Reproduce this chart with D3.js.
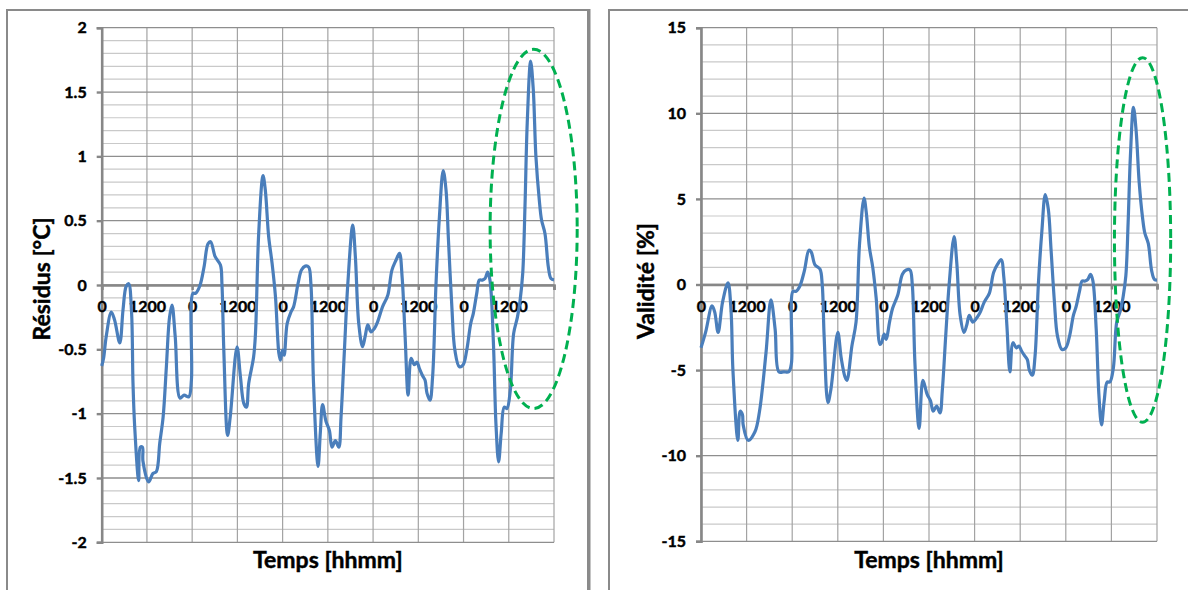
<!DOCTYPE html>
<html><head><meta charset="utf-8">
<script src="https://cdn.jsdelivr.net/npm/d3@7"></script>
<style>
body{margin:0;background:#fff}
svg{display:block}
text{font-family:Lato,"Open Sans",sans-serif;font-weight:bold;fill:#000;stroke:#000;stroke-width:0.45px;paint-order:stroke}
</style>
</head><body><svg id="c" width="1188" height="590"></svg>
<script>
// ---- DATA ----
const xTickHours = [0,12,24,36,48,60,72,84,96,108];
const xTickLabels = ["0","1200","0","1200","0","1200","0","1200","0","1200"];
const residusTicks = [-2,-1.5,-1,-0.5,0,0.5,1,1.5,2];
const validiteTicks = [-15,-10,-5,0,5,10,15];

const residusHours = [0,0.5,1.2,2.55,3.4,4.8,5.65,6.5,7.15,7.9,8.3,8.75,9.8,10.25,10.8,10.95,12.45,13.6,14.5,15.4,16.3,17.15,18,18.65,19.5,20.8,21.85,23.1,23.8,24.2,24.9,26,27.15,28.2,28.9,30.1,31.5,31.9,32.4,33.4,34.1,35.9,36.8,37.7,38.4,39,40.3,40.8,41.65,42.8,43.4,44.3,45.2,46.1,47,47.4,48,48.4,49.2,50.2,50.9,52.1,53,54,54.9,55.5,56.2,57.4,58,58.6,59.5,60.4,61.1,62,62.9,63.5,64.4,65.3,66.6,67.3,68.2,69.2,69.9,70.6,71.45,72.3,73.2,74.5,75.9,77,78.1,79,79.7,80.5,81.3,82.1,82.95,83.65,84.3,85.2,85.8,86.3,87.1,87.8,88.7,89.6,90.6,91.35,92,92.9,93.7,94.9,95.9,96.85,97.9,98.6,99.5,100.2,101,101.7,102.4,103,103.9,104.6,105.3,106,106.8,107.5,108.4,109.3,110.3,111,111.7,112.3,112.9,113.8,114.5,115.2,116.1,116.7,117.6,118.5,119.2,120];
const residusValues = [-0.63,-0.57,-0.40,-0.21,-0.27,-0.45,-0.195,-0.01,0.01,-0.2,-0.76,-1.10,-1.52,-1.26,-1.26,-1.37,-1.53,-1.465,-1.45,-1.23,-1.025,-0.64,-0.25,-0.156,-0.40,-0.88,-0.856,-0.87,-0.74,-0.065,-0.065,-0.01,0.14,0.32,0.336,0.22,0.155,0.01,-0.51,-1.17,-1.025,-0.48,-0.71,-0.92,-0.95,-0.765,-0.56,-0.376,0.40,0.85,0.74,0.375,0.17,-0.09,-0.53,-0.585,-0.506,-0.545,-0.30,-0.21,-0.17,0.012,0.116,0.147,0.14,0.01,-0.765,-1.41,-1.15,-0.93,-1.06,-1.13,-1.26,-1.21,-1.26,-1.025,-0.506,0.01,0.466,0.22,-0.30,-0.48,-0.40,-0.31,-0.364,-0.34,-0.286,-0.17,-0.08,0.116,0.194,0.246,0.064,-0.40,-0.856,-0.57,-0.62,-0.60,-0.65,-0.71,-0.74,-0.84,-0.895,-0.71,0.012,0.53,0.89,0.74,0.35,-0.17,-0.506,-0.636,-0.62,-0.506,-0.30,-0.22,-0.065,0.038,0.038,0.05,0.10,0.04,-0.43,-1.08,-1.375,-1.15,-0.95,-0.96,-0.82,-0.376,-0.25,-0.12,0.09,0.61,1.26,1.74,1.52,1.0,0.66,0.505,0.40,0.14,0.05,0.04];

const validiteHours = [0,1.2,2.9,3.6,4.5,5.7,7.1,7.9,8.4,9.7,10.3,10.9,11.1,12.4,14.2,15.4,17.1,18.4,19.5,20.5,21.8,23.1,23.8,24.2,25,26,27.2,28.4,29,30,31.3,31.9,32.4,33.4,34.2,36,36.9,37.9,38.4,39.7,40.8,41.7,42.9,43.5,44.3,45.2,46.1,47.1,47.5,48.2,48.7,49.7,50.4,51.8,53,54,55,55.6,56.3,57.4,58.4,59.5,60.4,61.1,62,62.9,63.5,64.4,65.3,66.6,67.3,68.2,69.2,69.9,70.6,71.5,72.4,73.3,74.6,75.9,77,78.1,79,79.7,80.5,81.3,82.1,83,83.7,84.4,85.3,85.9,86.4,87.2,87.9,88.8,89.7,90.6,91.4,92.1,93,93.8,95,96,97,98,98.7,99.6,100.3,101.1,101.8,102.5,103.1,104,104.7,105.4,106.1,106.9,107.6,108.5,109.4,110.4,111.1,111.8,112.4,113,113.8,114.5,115.3,116.2,116.8,117.7,118.6,119.3,120];
const validiteValues = [-3.7,-2.8,-1.25,-1.6,-2.8,-1.0,0.1,-1.5,-5.0,-9.1,-7.4,-7.6,-8.2,-9.1,-8.6,-7.4,-4.0,-0.9,-2.6,-5.1,-5.1,-5.1,-4.6,-0.4,-0.4,-0.1,0.8,2.0,1.9,1.15,0.9,0.0,-3.0,-6.9,-6.1,-2.8,-4.3,-5.4,-5.6,-3.6,-2.2,2.3,5.05,4.2,2.2,1.0,-0.8,-3.5,-3.4,-2.9,-3.2,-2.1,-1.4,-0.6,0.6,0.85,0.85,0.0,-4.6,-8.4,-5.6,-6.4,-6.8,-7.4,-7.1,-7.5,-6.2,-3.0,0.0,2.8,1.3,-1.8,-2.8,-2.4,-1.8,-2.2,-2.0,-1.7,-1.0,-0.5,0.7,1.2,1.45,0.4,-2.4,-5.1,-3.4,-3.7,-3.6,-3.9,-4.2,-4.4,-5.0,-5.3,-4.2,0.1,3.1,5.25,4.4,2.1,-1.0,-3.0,-3.8,-3.7,-3.0,-1.8,-1.3,-0.4,0.2,0.2,0.3,0.6,0.25,-2.6,-6.4,-8.2,-6.8,-5.7,-5.7,-4.9,-2.2,-1.5,-0.7,0.5,3.6,7.5,10.35,9.0,6.0,3.9,3.0,2.4,0.8,0.3,0.25];

// highlighted region (centre time, centre value, half-width in hours, half-height in value units)
const residusHighlight = [114.6, 0.436, 11.55, 1.396];
const validiteHighlight = [116.2, 2.6, 7.4, 10.65];

// ---- DRAWING ----
const svg = d3.select("#c");
const GRID = "#a3a3a3", MINOR = "#c9c9c9", MAJOR = "#8e8e8e", AXIS = "#878787";
const LINE = "#4a7ebb", GREEN = "#00b050";

svg.append("rect").attr("x",7).attr("y",10).attr("width",581).attr("height",600)
  .attr("fill","none").attr("stroke","#8a8a8a").attr("stroke-width",2);
svg.append("line").attr("x1",589).attr("x2",589).attr("y1",9).attr("y2",590)
  .attr("stroke","#8a8a8a").attr("stroke-width",3);
svg.append("rect").attr("x",609).attr("y",10).attr("width",620).attr("height",600)
  .attr("fill","none").attr("stroke","#8a8a8a").attr("stroke-width",2);

function panel(o){
  const x = d3.scaleLinear().domain([0,120]).range([o.x0,o.x1]);
  const y = d3.scaleLinear().domain([o.min,o.max]).range([o.y1,o.y0]);
  const g = svg.append("g");
  const nMinor = Math.round((o.max-o.min)/o.minor);
  const minorVals = d3.range(nMinor+1).map(i=>o.min+i*o.minor)
    .filter(v=>Math.abs(v/o.major-Math.round(v/o.major))>1e-6);
  g.selectAll(".mn").data(minorVals).join("line")
    .attr("x1",o.x0).attr("x2",o.x1).attr("y1",d=>y(d)).attr("y2",d=>y(d))
    .attr("stroke",MINOR).attr("stroke-width",1.2);
  const vx = xTickHours.concat([120]);
  g.selectAll(".vg").data(vx).join("line")
    .attr("x1",d=>x(d)).attr("x2",d=>x(d)).attr("y1",o.y0).attr("y2",o.y1)
    .attr("stroke",GRID).attr("stroke-width",1.2);
  g.selectAll(".mj").data(o.ticks).join("line")
    .attr("x1",o.x0).attr("x2",o.x1).attr("y1",d=>y(d)).attr("y2",d=>y(d))
    .attr("stroke",MAJOR).attr("stroke-width",1.3);
  const ya = d3.axisLeft(y).tickValues(o.ticks).tickSize(5).tickPadding(10)
    .tickFormat(d=>String(d));
  const yg = g.append("g").attr("transform",`translate(${o.x0},0)`).call(ya);
  yg.select(".domain").attr("stroke",AXIS).attr("stroke-width",2.6);
  yg.selectAll(".tick line").attr("stroke",AXIS).attr("stroke-width",2.4);
  yg.selectAll(".tick text").attr("font-size",16).attr("font-family","Lato").attr("font-weight","bold").attr("fill","#000");
  const xa = d3.axisBottom(x).tickValues(xTickHours.concat([120])).tickSize(5).tickPadding(11)
    .tickFormat((d,i)=> i<xTickLabels.length ? xTickLabels[i] : "");
  const xg = g.append("g").attr("transform",`translate(0,${y(0)})`).call(xa);
  xg.select(".domain").attr("stroke",AXIS).attr("stroke-width",2.6);
  xg.selectAll(".tick line").attr("stroke",AXIS).attr("stroke-width",2.4);
  xg.selectAll(".tick text").attr("font-size",16).attr("font-family","Lato").attr("font-weight","bold").attr("fill","#000");
  const pts = o.hours.map((h,i)=>[h,o.values[i]]);
  g.append("path").datum(pts)
    .attr("d",d3.line().x(d=>x(d[0])).y(d=>y(d[1])).curve(d3.curveCatmullRom.alpha(0.5)))
    .attr("fill","none").attr("stroke",LINE).attr("stroke-width",3.2).attr("stroke-linejoin","round");
  const h = o.hl;
  g.append("ellipse")
    .attr("cx",x(h[0])).attr("cy",y(h[1]))
    .attr("rx",x(h[0]+h[2])-x(h[0])).attr("ry",y(h[1]-h[3])-y(h[1]))
    .attr("fill","none").attr("stroke",GREEN).attr("stroke-width",3).attr("stroke-dasharray","9,5");
  g.append("text").attr("x",(o.x0+o.x1)/2).attr("y",568).attr("text-anchor","middle")
    .attr("font-size",23).text("Temps [hhmm]");
  g.append("text").attr("transform",`translate(${o.tx},${o.ty}) rotate(-90)`)
    .attr("text-anchor","middle").attr("font-size",23).text(o.title);
}

panel({x0:101.7,x1:554,y0:27.7,y1:542.3,min:-2,max:2,minor:0.1,major:0.5,ticks:residusTicks,
  hours:residusHours,values:residusValues,hl:residusHighlight,title:"Résidus [°C]",tx:50,ty:279});
panel({x0:701,x1:1157,y0:27.7,y1:541.3,min:-15,max:15,minor:1,major:5,ticks:validiteTicks,
  hours:validiteHours,values:validiteValues,hl:validiteHighlight,title:"Validité [%]",tx:654,ty:281});
</script>
</body></html>
